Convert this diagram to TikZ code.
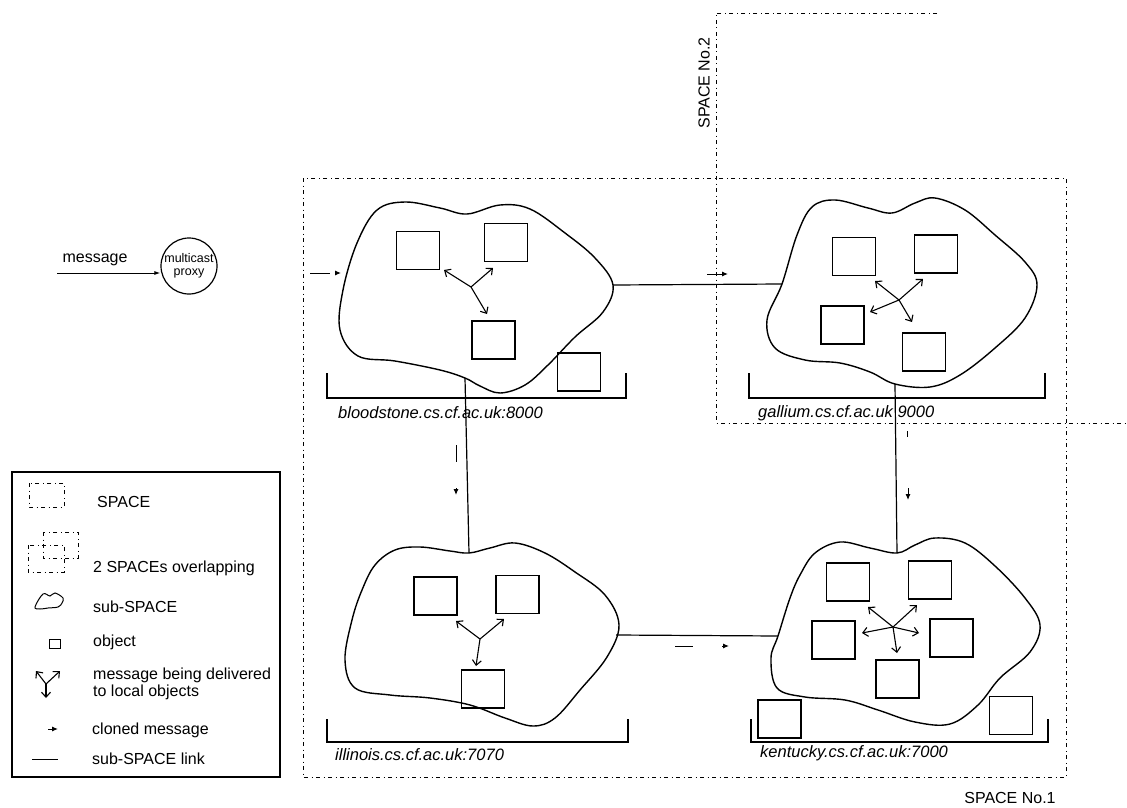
\documentclass[tikz,border=0pt]{standalone}
\usepackage{fontspec}
\setmainfont{Liberation Sans}
\usetikzlibrary{arrows.meta}
\begin{document}
\begin{tikzpicture}[x=1pt,y=-1pt,
  space/.style={line width=0.8pt, dash pattern=on 4pt off 3.5pt on 1pt off 3.5pt},
  subspace/.style={line width=1.4pt},
  obj/.style={draw, line width=1.2pt, minimum width=43pt, minimum height=38pt, inner sep=0pt},
  link/.style={line width=1.2pt},
  deliver/.style={line width=1.1pt, -{Straight Barb[length=5pt,width=9pt]}},
  clone/.style={line width=1pt, -{Latex[length=6pt,width=5pt]}},
  bracket/.style={line width=1.2pt},
  host/.style={anchor=west, font=\fontsize{16.5}{18}\selectfont\itshape, inner sep=0pt},
  lbl/.style={anchor=west, font=\fontsize{16}{18}\selectfont, inner sep=0pt}
]
\useasboundingbox (0,0) rectangle (1127,808);

% ---------- SPACEs ----------
\draw[space] (303,178) rectangle (1066,777);
\draw[space] (937,13) -- (716,13) -- (716,423) -- (1127,423);
\node[lbl, anchor=center, rotate=90] (sp2) at (704,83) {SPACE No.2};
\node[lbl, anchor=center] (sp1) at (1010,798) {SPACE No.1};

% ---------- multicast proxy ----------
\node[draw, circle, line width=1.2pt, minimum size=56pt, inner sep=0pt, align=center,
      font=\fontsize{12.5}{13.5}\selectfont] (proxy) at (189,266) {multicast\\proxy};
\coordinate (msgS) at (57,273);
\draw[line width=1pt, -{Latex[length=6pt,width=4pt]}] (msgS) -- (proxy.west |- msgS);
\node[lbl, anchor=center] (msg) at (95,260) {message};

% ---------- named link ends on the sub-SPACEs ----------
\coordinate (bsR) at (613,285);
\coordinate (bsB) at (465,378);
\coordinate (gaL) at (782,284);
\coordinate (gaB) at (895,384);
\coordinate (ilT) at (469,553);
\coordinate (ilR) at (616,635);
\coordinate (keT) at (897,553);
\coordinate (keL) at (778,636);

% ---------- sub-SPACE clouds ----------
\draw[subspace] plot[smooth cycle, tension=0.6] coordinates {
 (377,210) (405,202) (440,208) (467,214) (500,205) (530,209) (565,233) (595,258)
 (613,285) (603,312) (575,337) (548,365) (525,385) (500,393) (480,386) (465,378)
 (440,370) (395,361) (358,356) (340,330) (343,290) (357,243)};
\draw[subspace] plot[smooth cycle, tension=0.6] coordinates {
 (812,207) (835,200) (868,208) (892,213) (915,203) (935,198) (965,210) (995,235)
 (1025,262) (1037,285) (1025,318) (995,348) (960,375) (930,387) (895,384) (870,372)
 (840,363) (805,360) (775,348) (767,320) (782,284) (797,235)};
\draw[subspace] plot[smooth cycle, tension=0.6] coordinates {
 (375,565) (395,550) (420,547) (450,551) (469,553) (490,548) (515,543) (545,553)
 (575,572) (605,595) (619,625) (607,657) (580,690) (555,718) (533,726) (505,718)
 (470,705) (430,698) (390,695) (355,688) (345,660) (352,620) (362,590)};
\draw[subspace] plot[smooth cycle, tension=0.6] coordinates {
 (800,575) (815,553) (840,542) (870,548) (897,553) (915,545) (935,538) (965,543)
 (995,566) (1025,598) (1040,625) (1030,652) (1000,678) (978,705) (950,724) (915,722)
 (878,710) (845,700) (805,697) (777,688) (771,658) (778,636) (790,598)};

% ---------- sub-SPACE links ----------
\draw[link] (bsR) -- (gaL);
\draw[link] (bsB) -- (ilT);
\draw[link] (gaB) -- (keT);
\draw[link] (ilR) -- (keL);

% ---------- objects ----------
\node[obj] (b1) at (418,250.5) {};
\node[obj] (b2) at (506,242.5) {};
\node[obj] (b3) at (493.5,340) {};
\node[obj] (b4) at (579,372) {};
\node[obj] (g1) at (854,256.5) {};
\node[obj] (g2) at (936,254) {};
\node[obj] (g3) at (842.5,325) {};
\node[obj] (g4) at (924,352) {};
\node[obj] (i1) at (435.5,596) {};
\node[obj] (i2) at (517.5,594.5) {};
\node[obj] (i3) at (483,689) {};
\node[obj] (k1) at (848,582) {};
\node[obj] (k2) at (930,580) {};
\node[obj] (k3) at (833.5,640) {};
\node[obj] (k4) at (951.5,638) {};
\node[obj] (k5) at (897.5,679) {};
\node[obj] (k6) at (779.5,719) {};
\node[obj] (k7) at (1011,715.5) {};

% ---------- message delivery ----------
\coordinate (bc) at (471,287);
\draw[deliver] (bc) -- (444,270);
\draw[deliver] (bc) -- (493,268);
\draw[deliver] (bc) -- (487,314);
\coordinate (gc) at (899,300);
\draw[deliver] (gc) -- (875,281);
\draw[deliver] (gc) -- (923,279);
\draw[deliver] (gc) -- (870,312);
\draw[deliver] (gc) -- (912,322);
\coordinate (ic) at (480,639);
\draw[deliver] (ic) -- (456,621);
\draw[deliver] (ic) -- (504,619);
\draw[deliver] (ic) -- (476,666);
\coordinate (kc) at (893,627);
\draw[deliver] (kc) -- (868,607);
\draw[deliver] (kc) -- (917,605);
\draw[deliver] (kc) -- (862,633);
\draw[deliver] (kc) -- (919,633);
\draw[deliver] (kc) -- (897,653);

% ---------- cloned messages ----------
\draw[line width=1pt] (310,273) -- (330,273);
\draw[clone] (335,273) -- (341,273);
\draw[clone] (707,274) -- (728,274);
\draw[line width=1pt] (456,445) -- (456,462);
\draw[clone] (456,488) -- (456,495);
\draw[line width=1pt] (907,431) -- (907,437);
\draw[clone] (908,488) -- (908,500);
\draw[line width=1pt] (675,646) -- (693,646);
\draw[clone] (722,646) -- (729,646);

% ---------- host brackets and labels ----------
\draw[bracket] (327,373) -- (327,398) -- (626,398) -- (626,373);
\node[host] (hb) at (338,413) {bloodstone.cs.cf.ac.uk:8000};
\draw[bracket] (749,373) -- (749,398) -- (1045,398) -- (1045,373);
\node[host] (hg) at (758,413) {gallium.cs.cf.ac.uk 9000};
\draw[bracket] (327,719) -- (327,742) -- (628,742) -- (628,719);
\node[host] (hi) at (335,755) {illinois.cs.cf.ac.uk:7070};
\draw[bracket] (751,719) -- (751,742) -- (1048,742) -- (1048,719);
\node[host] (hk) at (760,753) {kentucky.cs.cf.ac.uk:7000};

% ---------- legend ----------
\node[draw, line width=1.1pt, minimum width=268pt, minimum height=305pt, inner sep=0pt] (legend) at (146,624.5) {};
\draw[space] (29,483) rectangle (64,507);
\node[lbl] (l1) at (97,502) {SPACE};
\draw[space] (43,532) rectangle (78,558);
\draw[space] (28,545) rectangle (64,572);
\node[lbl] (l2) at (93,568) {2 SPACEs overlapping};
\draw[line width=1pt] plot[smooth cycle, tension=0.6] coordinates {
 (35,607) (43,594) (50,596) (55,593) (63,598) (62,603) (58,607) (48,608) (40,609)};
\node[lbl] (l3) at (93,607) {sub-SPACE};
\node[draw, line width=1pt, minimum width=11pt, minimum height=9pt, inner sep=0pt] (lobj) at (55,644) {};
\node[lbl] (l4) at (93,642) {object};
\coordinate (lc) at (46,684);
\draw[deliver] (lc) -- (36,671);
\draw[deliver] (lc) -- (60,671);
\draw[deliver] (lc) -- (46,698);
\node[lbl, align=left, font=\fontsize{16}{17}\selectfont] (l5) at (93,683.5) {message being delivered\\to local objects};
\draw[clone] (48,729) -- (58,729);
\node[lbl] (l6) at (92,730) {cloned message};
\draw[line width=0.8pt] (32,759) -- (58,759);
\node[lbl] (l7) at (92,759) {sub-SPACE link};
\end{tikzpicture}
\end{document}
